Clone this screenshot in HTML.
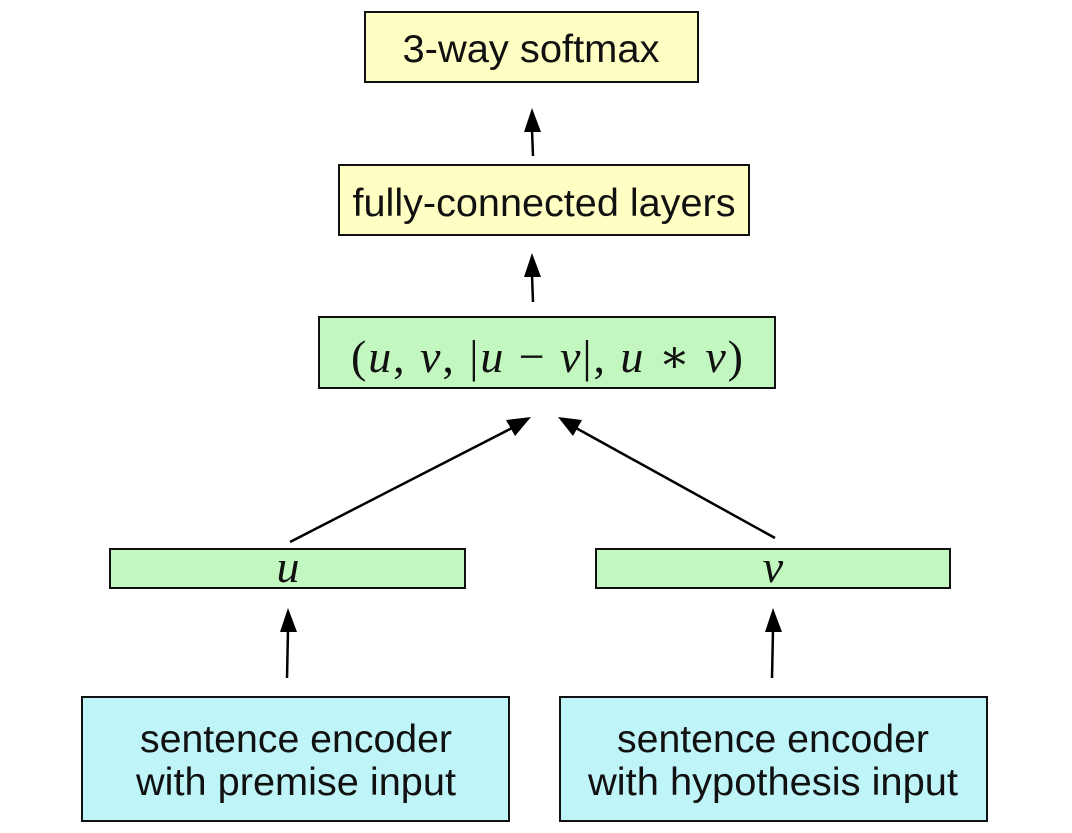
<!DOCTYPE html>
<html><head><meta charset="utf-8"><style>
html,body{margin:0;padding:0;background:#fff;}
svg{display:block;}
.t{font-family:"Liberation Sans",Arial,sans-serif;font-size:39px;fill:#111;}
.m{font-family:"Liberation Serif","DejaVu Serif",serif;font-size:46px;fill:#111;}
</style></head><body>
<svg width="1072" height="833" viewBox="0 0 1072 833" xmlns="http://www.w3.org/2000/svg">
<g stroke="#111" stroke-width="2">
<rect x="365" y="12" width="333" height="70" fill="#ffffc4"/>
<rect x="339" y="165" width="410" height="70" fill="#ffffc4"/>
<rect x="319" y="317" width="456" height="71" fill="#c2f8c0"/>
<rect x="110" y="549" width="355" height="39" fill="#c2f8c0"/>
<rect x="596" y="549" width="354" height="39" fill="#c2f8c0"/>
<rect x="82" y="697" width="427" height="124" fill="#bff4f8"/>
<rect x="560" y="697" width="427" height="124" fill="#bff4f8"/>
</g>
<g fill="#000">
<line x1="533" y1="156" x2="532" y2="130" stroke="#000" stroke-width="2.5"/><path d="M532,108 L524,132 L541,132 z"/>
<line x1="533" y1="302" x2="532" y2="275" stroke="#000" stroke-width="2.5"/><path d="M532,253 L524,277 L541,277 z"/>
<line x1="287" y1="678" x2="288" y2="630" stroke="#000" stroke-width="2.5"/><path d="M288,608 L280,632 L297,632 z"/>
<line x1="772" y1="678" x2="773" y2="630" stroke="#000" stroke-width="2.5"/><path d="M773,608 L765,632 L782,632 z"/>
<line x1="290" y1="542" x2="512" y2="428" stroke="#000" stroke-width="2.5"/><path d="M531,417 L506,420 L515,436 z"/>
<line x1="775" y1="538" x2="576" y2="428" stroke="#000" stroke-width="2.5"/><path d="M558,417 L573,436 L582,420 z"/>
</g>
<text class="t" x="531" y="62" text-anchor="middle" textLength="257" lengthAdjust="spacingAndGlyphs">3-way softmax</text>
<text class="t" x="544" y="216" text-anchor="middle" textLength="383" lengthAdjust="spacingAndGlyphs">fully-connected layers</text>
<text class="m" x="547" y="372" text-anchor="middle" font-style="italic" textLength="392" lengthAdjust="spacing"><tspan font-style="normal">(</tspan>u<tspan font-style="normal">, </tspan>v<tspan font-style="normal">, |</tspan>u <tspan font-style="normal">− </tspan>v<tspan font-style="normal">|, </tspan>u <tspan font-style="normal">∗ </tspan>v<tspan font-style="normal">)</tspan></text>
<text class="m" x="288" y="582" text-anchor="middle" font-style="italic" font-size="54">u</text>
<text class="m" x="773" y="582" text-anchor="middle" font-style="italic" font-size="54">v</text>
<text class="t" x="296" y="752" text-anchor="middle" textLength="312" lengthAdjust="spacingAndGlyphs">sentence encoder</text>
<text class="t" x="296" y="795" text-anchor="middle" textLength="320" lengthAdjust="spacingAndGlyphs">with premise input</text>
<text class="t" x="773" y="752" text-anchor="middle" textLength="312" lengthAdjust="spacingAndGlyphs">sentence encoder</text>
<text class="t" x="773" y="795" text-anchor="middle" textLength="370" lengthAdjust="spacingAndGlyphs">with hypothesis input</text>
</svg>
</body></html>
